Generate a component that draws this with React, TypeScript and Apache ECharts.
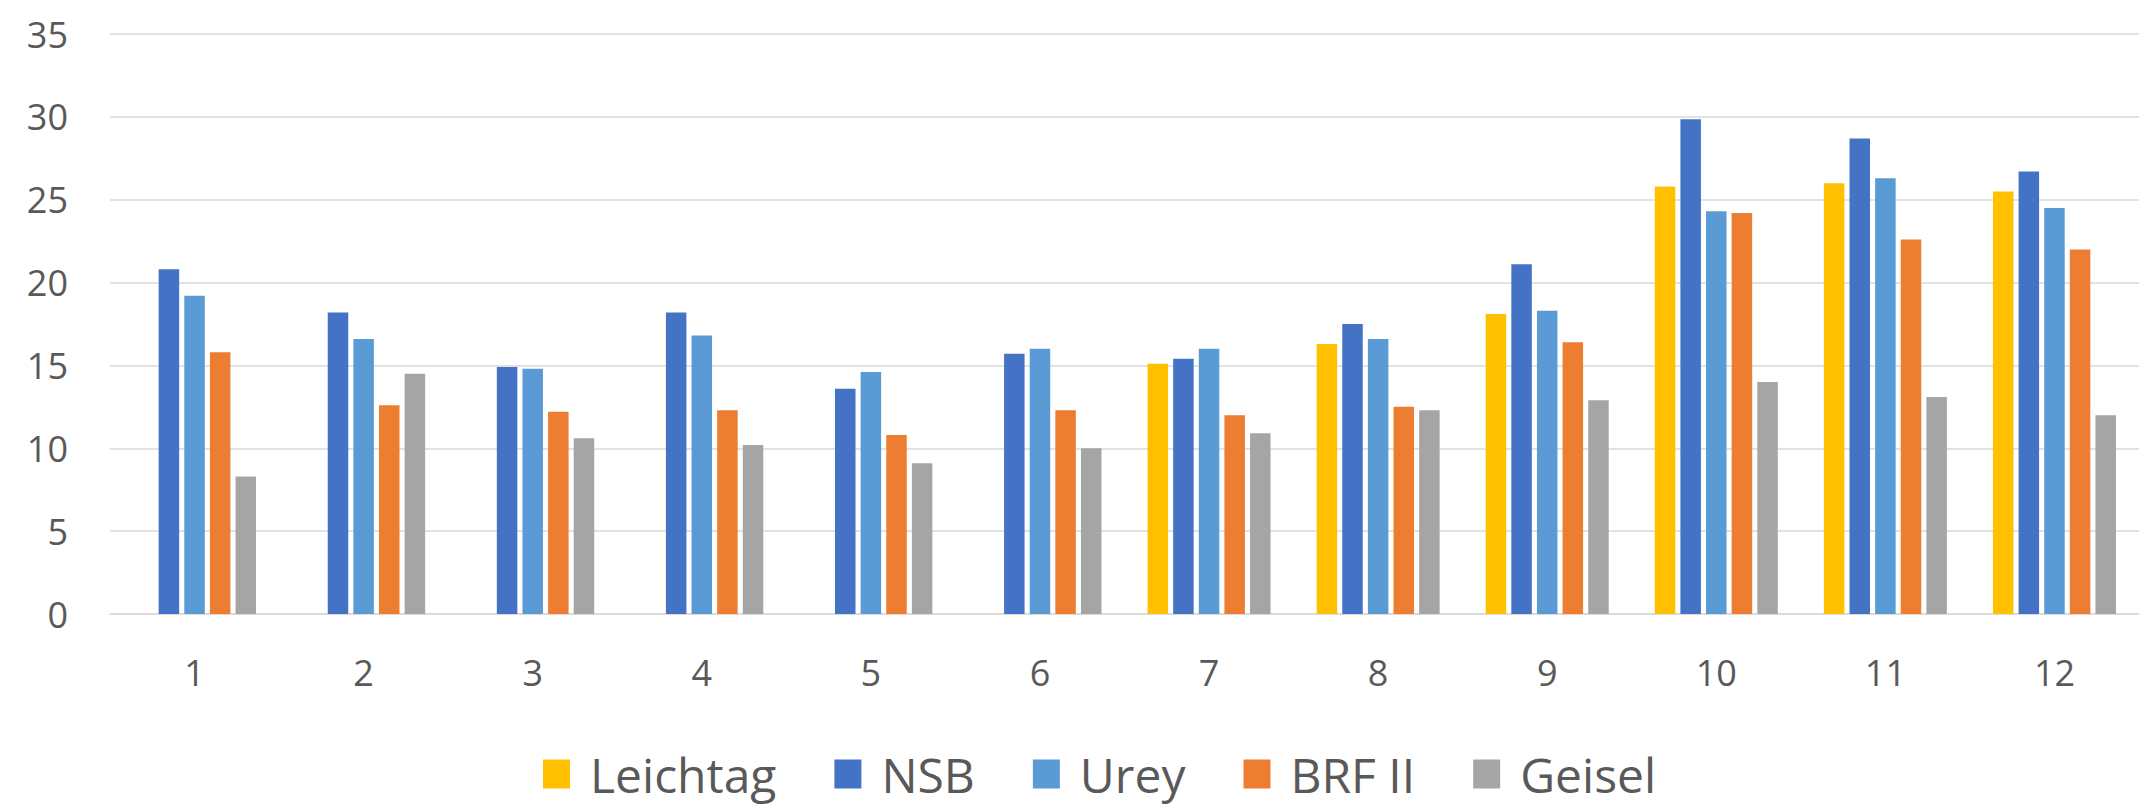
import React, { useEffect, useRef } from "react";
import * as echarts from "echarts";

const categories = ["1", "2", "3", "4", "5", "6", "7", "8", "9", "10", "11", "12"];
const seriesNames = ["Leichtag", "NSB", "Urey", "BRF II", "Geisel"];
const leichtag = [null, null, null, null, null, null, 15.1, 16.3, 18.1, 25.8, 26.0, 25.5];
const nsb = [20.8, 18.2, 14.9, 18.2, 13.6, 15.7, 15.4, 17.5, 21.1, 29.85, 28.7, 26.7];
const urey = [19.2, 16.6, 14.8, 16.8, 14.6, 16.0, 16.0, 16.6, 18.3, 24.3, 26.3, 24.5];
const brf = [15.8, 12.6, 12.2, 12.3, 10.8, 12.3, 12.0, 12.5, 16.4, 24.2, 22.6, 22.0];
const geisel = [8.3, 14.5, 10.6, 10.2, 9.1, 10.0, 10.9, 12.3, 12.9, 14.0, 13.1, 12.0];
const colors = ["#FFC000", "#4472C4", "#5B9BD5", "#ED7D31", "#A5A5A5"];

const FONT = '"Segoe UI", "Open Sans", "Noto Sans", sans-serif';

export default function App() {
  const ref = useRef<HTMLDivElement>(null);
  useEffect(() => {
    if (!ref.current) return;
    const chart = echarts.init(ref.current, undefined, { renderer: "svg" });
    const allData = [leichtag, nsb, urey, brf, geisel];
    chart.setOption({
      animation: false,
      backgroundColor: "#ffffff",
      color: colors,
      grid: { left: 110, top: 34, width: 2033, bottom: 194, containLabel: false },
      legend: {
        data: seriesNames,
        left: 543,
        top: 748,
        padding: 0,
        itemWidth: 27,
        itemHeight: 29,
        itemGap: 58,
        icon: "rect",
        textStyle: { fontFamily: FONT, fontSize: 48, lineHeight: 52, color: "#595959", padding: [0, 0, 0, 15] },
      },
      xAxis: {
        type: "category",
        data: categories,
        axisTick: { show: false },
        axisLine: { lineStyle: { color: "#D9D9D9", width: 1.5 } },
        axisLabel: { fontFamily: FONT, fontSize: 36, color: "#595959", margin: 40 },
      },
      yAxis: {
        type: "value",
        min: 0,
        max: 35,
        interval: 5,
        axisLine: { show: false },
        axisTick: { show: false },
        splitLine: { lineStyle: { color: "#D9D9D9", width: 1.5 } },
        axisLabel: { fontFamily: FONT, fontSize: 36, color: "#595959", margin: 42 },
      },
      series: seriesNames.map((name, i) => ({
        name,
        type: "bar",
        data: allData[i],
        barWidth: 20.5,
        barGap: "25%",
        itemStyle: { color: colors[i] },
      })),
    });
    return () => chart.dispose();
  }, []);
  return (
    <div
      ref={ref}
      style={{ position: "absolute", left: 0, top: 0, width: 2139, height: 808 }}
    />
  );
}
